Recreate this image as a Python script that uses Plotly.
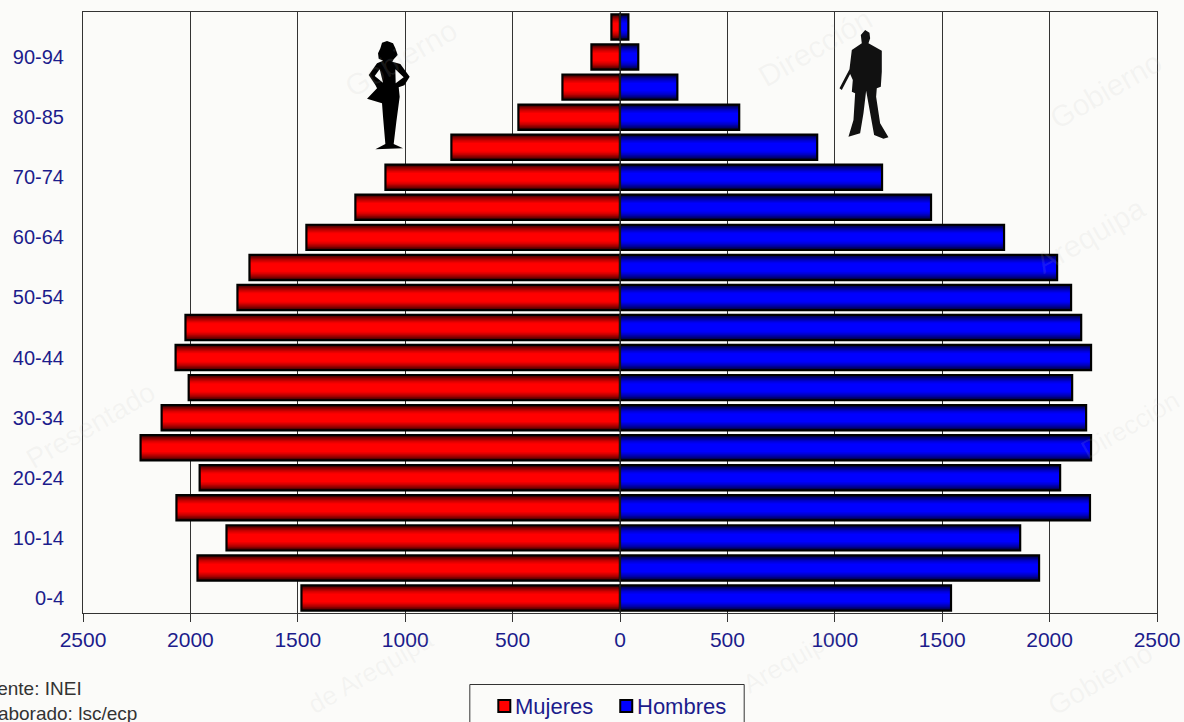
import plotly.graph_objects as go

categories = ["0-4", "5-9", "10-14", "15-19", "20-24", "25-29", "30-34", "35-39", "40-44", "45-49",
              "50-54", "55-59", "60-64", "65-69", "70-74", "75-79", "80-85", "85-89", "90-94", "95+"]
shown_labels = ["0-4", "10-14", "20-24", "30-34", "40-44", "50-54", "60-64", "70-74", "80-85", "90-94"]
mujeres = [1483, 1967, 1832, 2065, 1957, 2232, 2134, 2008, 2069, 2023,
           1781, 1725, 1460, 1232, 1092, 785, 473, 268, 133, 40]
hombres = [1541, 1951, 1863, 2188, 2049, 2193, 2170, 2105, 2193, 2147,
           2100, 2035, 1788, 1448, 1220, 918, 555, 267, 85, 39]
x_ticks = [-2500, -2000, -1500, -1000, -500, 0, 500, 1000, 1500, 2000, 2500]
x_labels = ["2500", "2000", "1500", "1000", "500", "0", "500", "1000", "1500", "2000", "2500"]

L, T, PW, PH = 82.5, 12, 1074.5, 601
BG = "#fbfbf9"
NAVY = "#1c1c8c"
FONT = "Liberation Sans, Arial, sans-serif"

def px(x):
    return (x - L) / PW

def py(y):
    return (T + PH - y) / PH

def path(points, holes=()):
    d = ""
    for ring in [points] + list(holes):
        d += "M " + " L ".join(f"{px(a):.5f} {py(b):.5f}" for a, b in ring) + " Z "
    return d

fig = go.Figure()
widths = [0.84, 0.76, 0.68, 0.60, 0.52, 0.44, 0.36, 0.28]
reds = ["#3a0000", "#600000", "#850000", "#a50000", "#c20000", "#da0000", "#ee0000", "#ff0000"]
blues = ["#00003a", "#000060", "#000085", "#0000a5", "#0000c2", "#0000da", "#0000ee", "#0000ff"]

neg = [-v for v in mujeres]
for vals, shades in ((neg, reds), (hombres, blues)):
    for w, c in zip(widths, shades):
        fig.add_bar(y=categories, x=vals, orientation="h", width=w, marker_color=c,
                    marker_line_width=0, showlegend=False, hoverinfo="skip")
    fig.add_bar(y=categories, x=vals, orientation="h", width=0.84, marker_color="rgba(0,0,0,0)",
                marker_line=dict(color="#000", width=2.2), showlegend=False)

shapes = [dict(type="line", xref="x", yref="paper", x0=0, x1=0, y0=0, y1=1,
               line=dict(color="#333", width=1), layer="above")]

def wz(a, b):
    return (340 + a / 3, b / 3)

woman = [wz(*p) for p in [(140, 123), (158, 130), (165, 145), (172, 165), (160, 178), (156, 185), (180, 192),
                          (208, 230), (192, 256), (175, 262), (178, 290), (168, 365), (160, 432), (188, 445),
                          (105, 448), (135, 432), (128, 350), (125, 310), (80, 296), (110, 265), (105, 255),
                          (85, 225), (110, 190), (128, 182), (115, 176), (113, 160), (120, 145), (125, 128)]]
holes = [[wz(*p) for p in [(118, 208), (103, 228), (128, 248)]],
         [wz(*p) for p in [(166, 250), (190, 232), (165, 208)]]]
shapes.append(dict(type="path", xref="paper", yref="paper", path=path(woman, holes),
                   fillcolor="#000", line=dict(width=0), layer="above"))

def mz(a, b):
    return (800 + a / 3, b / 3)

man = [mz(*p) for p in [(195, 90), (208, 98), (210, 115), (205, 130), (245, 152), (245, 215), (242, 260), (230, 265),
                        (228, 290), (240, 370), (265, 412), (250, 416), (222, 405), (198, 272), (190, 340),
                        (180, 400), (145, 410), (160, 360), (165, 280), (155, 275), (158, 240), (150, 222),
                        (125, 270), (118, 265), (148, 208), (155, 150), (185, 130), (182, 105)]]
shapes.append(dict(type="path", xref="paper", yref="paper", path=path(man),
                   fillcolor="#111", line=dict(width=0), layer="above"))

shapes.append(dict(type="rect", xref="paper", yref="paper", x0=px(469.5), x1=px(744), y0=py(684.5), y1=py(735),
                   fillcolor=BG, line=dict(color="#333", width=1)))
for x0, col in ((498, "#f00"), (620, "#00f")):
    shapes.append(dict(type="rect", xref="paper", yref="paper", x0=px(x0), x1=px(x0 + 12), y0=py(700), y1=py(712),
                       fillcolor=col, line=dict(color="#000", width=2)))

annotations = []
for text, x, y, ang, size in [("Gobierno", 400, 58, -30, 30), ("Dirección", 815, 48, -30, 30), ("Gobierno", 1105, 90, -30, 30),
                              ("Arequipa", 1090, 235, -30, 30), ("Presentado", 90, 425, -30, 28), ("Dirección", 1130, 425, -30, 26),
                              ("de Arequipa", 370, 672, -30, 26), ("Arequipa", 790, 660, -30, 26),
                              ("Gobierno", 1100, 680, -30, 28)]:
    annotations.append(dict(text=text, xref="paper", yref="paper", x=px(x), y=py(y), xanchor="center", yanchor="middle",
                            showarrow=False, textangle=ang,
                            font=dict(family=FONT, size=size, color="rgba(190,190,188,0.13)")))
for text, x in (("Mujeres", 513), ("Hombres", 635)):
    annotations.append(dict(text=text, xref="paper", yref="paper", x=px(x), y=py(706), xanchor="left", yanchor="middle",
                            showarrow=False, font=dict(family=FONT, size=22, color=NAVY)))
for text, xr, y in (("Fuente: INEI", 84, 689), ("Elaborado: lsc/ecp", 139, 713)):
    annotations.append(dict(text=text, xref="paper", yref="paper", x=px(xr), y=py(y), xanchor="right", yanchor="middle",
                            showarrow=False, font=dict(family=FONT, size=19, color="#333")))

fig.update_layout(
    width=1184, height=722, autosize=False, barmode="overlay",
    margin=dict(l=L, r=1184 - L - PW, t=T, b=722 - T - PH, pad=0),
    paper_bgcolor=BG, plot_bgcolor=BG, showlegend=False,
    shapes=shapes, annotations=annotations,
    xaxis=dict(range=[-2500, 2500], tickvals=x_ticks, ticktext=x_labels, showgrid=True, gridcolor="#333", gridwidth=1,
               automargin=False, ticklabeloverflow="allow", ticklabelposition="outside",
               zeroline=False, showline=True, mirror=True, linecolor="#333", linewidth=1,
               ticks="outside", ticklen=8, tickcolor="#333", tickfont=dict(family=FONT, size=21, color=NAVY)),
    yaxis=dict(type="category", categoryorder="array", categoryarray=categories, range=[-0.5, 19.5],
               automargin=False, tickvals=shown_labels, showgrid=False, zeroline=False, showline=True, mirror=True,
               linecolor="#333", linewidth=1, ticks="", ticklabelstandoff=14,
               tickfont=dict(family=FONT, size=20, color=NAVY)),
)

fig.write_html("out.html", config={"displayModeBar": False},
               post_script="document.body.style.margin='0';document.body.style.overflow='hidden';")
